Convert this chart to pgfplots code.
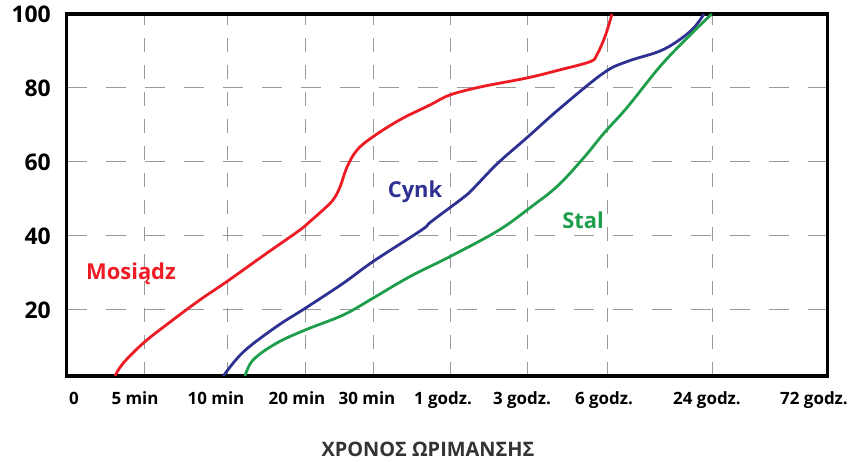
\documentclass[border=0pt]{standalone}
\usepackage{pgfplots}
\pgfplotsset{compat=1.18}
\usepackage{fontspec}
\setmainfont{Open Sans}
\definecolor{cred}{HTML}{ED1C24}
\definecolor{cblue}{HTML}{2E3192}
\definecolor{cgreen}{HTML}{1E9E4A}
\definecolor{cgrid}{HTML}{9A9A9A}
\begin{document}
\begin{tikzpicture}[x=1bp,y=1bp]
\useasboundingbox (0,0) rectangle (862,462);
\begin{axis}[
 at={(66.7bp,86bp)}, anchor=south west,
 scale only axis, width=761bp, height=362bp,
 xmin=66.7, xmax=827.7, ymin=2.1, ymax=100,
 axis line style={line width=3.2bp, black},
 xtick={144,227,305,373,450,527,607,712},
 xticklabels={},
 extra x ticks={74,135,216,297,367,443,522,604,707,814},
 extra x tick labels={0,5 min,10 min,20 min,30 min,1 godz.,3 godz.,6 godz.,24 godz.,72 godz.},
 extra x tick style={grid=none, major tick length=0pt},
 ytick={20,40,60,80,100},
 major tick length=0pt,
 xmajorgrids, ymajorgrids,
 x grid style={cgrid, line width=0.9bp, dash pattern=on 14bp off 13bp},
 y grid style={cgrid, line width=0.9bp, dash pattern=on 20bp off 19bp},
 xticklabel style={font=\bfseries\fontsize{17}{17}\selectfont, text=black, anchor=base, yshift=-29bp, inner sep=0pt},
 yticklabel style={font=\bfseries\fontsize{23}{23}\selectfont, text=black, anchor=base east, inner sep=0pt, xshift=-15.7bp, yshift=-8.2bp},
 /pgf/number format/assume math mode=true,
 no markers,
]
\addplot[cred, line width=2.8bp, smooth, tension=0.6] coordinates {
(115,2.1) (123.3,5.6) (143.3,11.0) (166.7,16.0) (200,22.7) (226.7,27.6) (266.7,35.3)
(300,41.6) (310,43.9) (323,47.0) (333,49.7) (340,53.2) (347,58.6) (357,63.2)
(373,66.8) (400,71.4) (430,75.4) (450,78.1) (481,80.3) (527,82.7) (560,84.9)
(590,87.1) (596.7,88.9) (605,93.9) (612,100)
};
\addplot[cblue, line width=2.8bp, smooth, tension=0.6] coordinates {
(223.3,2.1) (243.3,8.6) (276.7,15.5) (305.7,20.5) (343.3,27.2) (373.3,33.1) (421.7,41.6)
(431,43.8) (464,50.5) (474,53.0) (498,59.7) (528,66.8) (560,74.5) (603.3,84.0)
(626.7,87.1) (658.3,89.8) (676.7,92.5) (693.3,96.1) (704,100)
};
\addplot[cgreen, line width=2.8bp, smooth, tension=0.6] coordinates {
(245,2.1) (253.3,6.5) (276.7,11.0) (305.7,14.6) (343.3,18.6) (373.3,23.2) (410,29.0)
(450,34.4) (498,41.4) (531,47.8) (558,53.6) (584,61.2) (604,67.8) (626.7,74.6)
(660,85.8) (686.7,93.4) (711.7,100)
};
\node[cred, font=\bfseries\fontsize{22}{22}\selectfont, anchor=base] at (axis cs:131,28.1) {Mosiądz};
\node[cblue, font=\bfseries\fontsize{22}{22}\selectfont, anchor=base] at (axis cs:415,50.3) {Cynk};
\node[cgreen, font=\bfseries\fontsize{22}{22}\selectfont, anchor=base] at (axis cs:583,41.9) {Stal};
\end{axis}
\node[anchor=base, font=\bfseries\fontsize{20}{20}\selectfont, text=black!80] at (428,5) {ΧΡΟΝΟΣ ΩΡΙΜΑΝΣΗΣ};
\end{tikzpicture}
\end{document}
